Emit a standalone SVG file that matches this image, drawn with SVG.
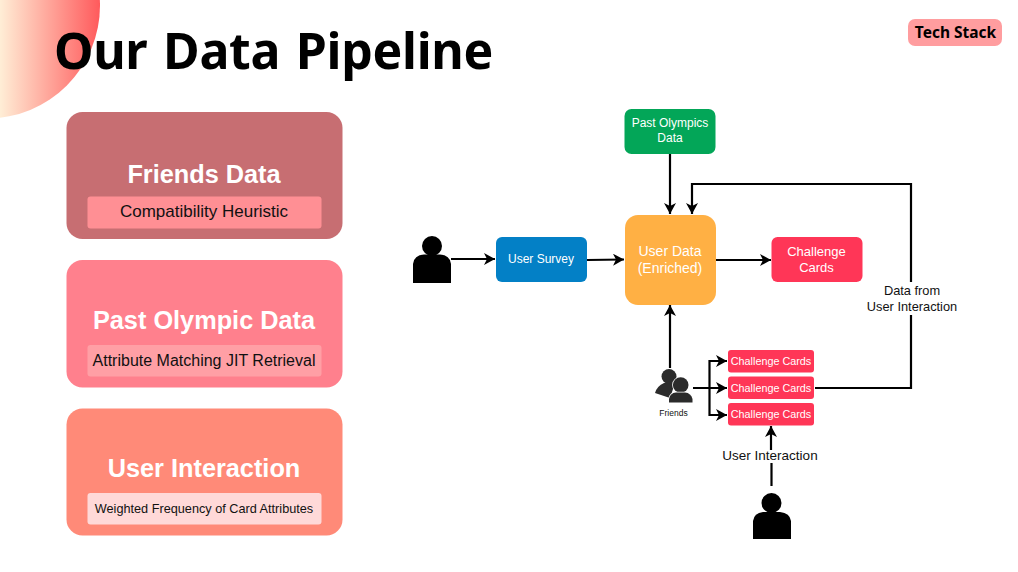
<svg xmlns="http://www.w3.org/2000/svg" width="1018" height="572" viewBox="0 0 1018 572">
<style>
text{font-family:"Liberation Sans",Arial,sans-serif;text-anchor:middle}
.h{font-weight:700;fill:#fff;font-size:25.300px}
.s{fill:#111}
.w{fill:#fff}
.sub{fill:#111;font-size:16px}
.c{fill:none;stroke:#000;stroke-width:2.200}
.card{fill:#ff3657}
.p{fill:#000}
.f{fill:#2b2b2b}
</style>
<defs>
<linearGradient id="g" gradientUnits="userSpaceOnUse" x1="0" y1="0" x2="100" y2="0"><stop offset="0" stop-color="#ffeed6"/><stop offset="1" stop-color="#ff5a5c"/></linearGradient>
<marker id="a" viewBox="0 0 12 12" refX="11" refY="6" markerWidth="12" markerHeight="12" markerUnits="userSpaceOnUse" orient="auto"><path d="M0 0L11 6L0 12L3 6Z" fill="#000"/></marker>
</defs>
<rect width="1018" height="572" fill="#fff"/>
<circle cx="-13" cy="5.500" r="113" fill="url(#g)"/>
<text id="title" x="273.500" y="69" font-size="50" font-weight="700" letter-spacing="-0.300" word-spacing="3" style="font-family:'Noto Sans','DejaVu Sans',sans-serif" fill="#000">Our Data Pipeline</text>
<g id="tech-stack"><rect x="908" y="19" width="94" height="27" rx="7" fill="#ff9d9f"/><text x="955.500" y="38" font-size="15.500" font-weight="700" style="font-family:'Noto Sans',sans-serif" fill="#000">Tech Stack</text></g>

<g id="panel-friends"><rect x="66.500" y="112" width="276" height="127" rx="16" fill="#c76e72"/><text class="h" x="204" y="183">Friends Data</text><rect x="87.500" y="196.500" width="234" height="32" rx="3" fill="#ff8f94"/><text class="sub" x="204" y="217" style="font-size:17px">Compatibility Heuristic</text></g>
<g id="panel-olympic"><rect x="66.500" y="260" width="276" height="127.500" rx="16" fill="#ff808d"/><text class="h" x="204" y="329">Past Olympic Data</text><rect x="87.500" y="345" width="234" height="31.500" rx="3" fill="#ff9fa5"/><text class="sub" x="204" y="366">Attribute Matching JIT Retrieval</text></g>
<g id="panel-interaction"><rect x="66.500" y="408.500" width="276" height="127" rx="16" fill="#ff8a78"/><text class="h" x="204" y="477">User Interaction</text><rect x="87.500" y="493" width="234" height="31.500" rx="3" fill="#ffd9d8"/><text class="sub" x="204" y="513" style="font-size:12.700px">Weighted Frequency of Card Attributes</text></g>

<g id="connectors">
<path class="c" d="M451 259H495" marker-end="url(#a)"/>
<path class="c" d="M587 260L624 259.500" marker-end="url(#a)"/>
<path class="c" d="M670 154V214" marker-end="url(#a)"/>
<path class="c" d="M716 260H771" marker-end="url(#a)"/>
<path class="c" d="M670 368V305" marker-end="url(#a)"/>
<path class="c" d="M911 282V184H692V214" marker-end="url(#a)"/>
<path class="c" d="M815 388H911V315"/>
<path class="c" d="M693 388H727" marker-end="url(#a)"/>
<path class="c" d="M709.500 388V361H727" marker-end="url(#a)"/>
<path class="c" d="M709.500 388V415H727" marker-end="url(#a)"/>
<path class="c" d="M771 450V426" marker-end="url(#a)"/>
<path class="c" d="M771.500 463V486"/>
</g>

<g id="survey-user"><circle class="p" cx="432" cy="246" r="10"/><path class="p" d="M413 283V264Q414 255 424 254.500H440Q450 255 451 264V283Z"/></g>
<g id="interaction-user"><circle class="p" cx="771.500" cy="503" r="10"/><path class="p" d="M753 539V521Q754 513 763 512H780Q790 513 791 521V539Z"/></g>

<g id="user-survey"><rect x="496" y="237" width="91" height="45" rx="6" fill="#0380c6"/><text class="w" x="541" y="263" font-size="12">User Survey</text></g>
<g id="past-olympics"><rect x="624.500" y="109" width="91" height="45" rx="7" fill="#03a658"/><text class="w" x="670" y="127" font-size="12">Past Olympics</text><text class="w" x="670" y="142" font-size="12">Data</text></g>
<g id="user-data"><rect x="625" y="215" width="91" height="90" rx="13" fill="#ffb044"/><text class="w" x="670" y="256" font-size="14">User Data</text><text class="w" x="670" y="273" font-size="14">(Enriched)</text></g>
<g id="challenge-main"><rect x="771.500" y="237" width="91" height="45" rx="6" fill="#ff3657"/><text class="w" x="816.500" y="256" font-size="13">Challenge</text><text class="w" x="816.500" y="272" font-size="13">Cards</text></g>

<g id="friends">
<circle class="f" cx="669" cy="376.500" r="7.500"/>
<path class="f" d="M655 393Q657 386 664 383L675 383L670 398Z"/>
<g stroke="#fff" stroke-width="1.500" paint-order="stroke"><circle class="f" cx="680.700" cy="385" r="7.800"/><path class="f" d="M669 402.500V399Q670 393 676 392.500H685Q691 393 692.500 399V402.500Z"/></g>
<text x="673.500" y="416" font-size="8.500" fill="#111">Friends</text></g>

<g id="card-1"><rect class="card" x="728" y="350" width="86" height="22.500" rx="3"/><text class="w" x="771" y="365" font-size="10.800">Challenge Cards</text></g>
<g id="card-2"><rect class="card" x="728" y="376.500" width="86" height="22.500" rx="3"/><text class="w" x="771" y="391.500" font-size="10.800">Challenge Cards</text></g>
<g id="card-3"><rect class="card" x="728" y="403" width="86" height="22.500" rx="3"/><text class="w" x="771" y="418" font-size="10.800">Challenge Cards</text></g>

<text class="s" x="770" y="460" font-size="13.500">User Interaction</text>
<text class="s" x="912" y="295" font-size="12.800">Data from</text>
<text class="s" x="912" y="311" font-size="12.800">User Interaction</text>
</svg>
